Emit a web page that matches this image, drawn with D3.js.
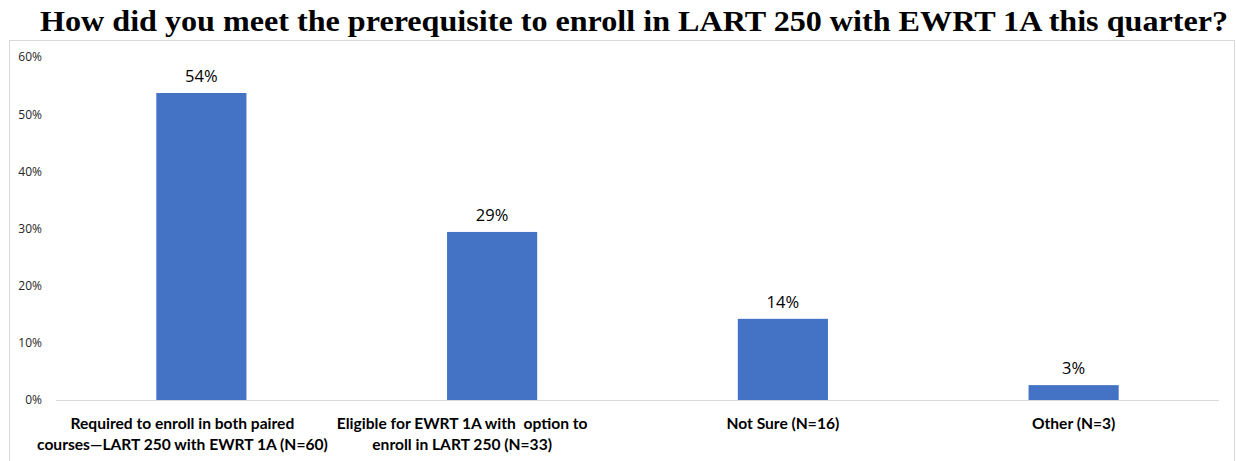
<!DOCTYPE html>
<html>
<head>
<meta charset="utf-8">
<script src="https://cdn.jsdelivr.net/npm/d3@7"></script>
<style>
  body { margin: 0; background: #fff; }
  svg { display: block; }
</style>
</head>
<body>
<div id="chart"></div>
<script>
// chart data
var categories = [
  ["Required to enroll in both paired", "courses\u2014LART 250 with EWRT 1A (N=60)"],
  ["Eligible for EWRT 1A with  option to", "enroll in LART 250 (N=33)"],
  ["Not Sure (N=16)"],
  ["Other (N=3)"]
];
var values = [53.7, 29.4, 14.2, 2.6];
var valueLabels = ["54%", "29%", "14%", "3%"];
var yTicks = [0, 10, 20, 30, 40, 50, 60];

var svgWidth = 1236;
var svgHeight = 461;

var svg = d3.select("#chart")
  .append("svg")
  .attr("width", svgWidth)
  .attr("height", svgHeight);

// title
svg.append("text")
  .attr("x", 634)
  .attr("y", 31)
  .attr("text-anchor", "middle")
  .attr("textLength", 1188)
  .attr("lengthAdjust", "spacingAndGlyphs")
  .style("font-family", "'Liberation Serif', 'DejaVu Serif', serif")
  .style("font-weight", "bold")
  .style("font-size", "30px")
  .style("fill", "#000")
  .text("How did you meet the prerequisite to enroll in LART 250 with EWRT 1A this quarter?");

// chart border
svg.append("rect")
  .attr("x", 9.5)
  .attr("y", 40.5)
  .attr("width", 1225)
  .attr("height", 430)
  .attr("fill", "none")
  .attr("stroke", "#d9d9d9");

var margin = { left: 56, right: 17, top: 57, bottom: 61 };
var width = svgWidth - margin.left - margin.right;
var yBase = 400;

var x = d3.scaleBand()
  .domain(d3.range(categories.length))
  .range([margin.left, margin.left + width])
  .paddingInner(0.69)
  .paddingOuter(0.345);

var y = d3.scaleLinear()
  .domain([0, 60])
  .range([yBase, 57]);

// y axis labels (no axis line)
var yAxis = d3.axisLeft(y)
  .tickValues(yTicks)
  .tickFormat(d => d + "%")
  .tickSize(0)
  .tickPadding(0);

var yG = svg.append("g")
  .attr("transform", "translate(42,0)")
  .call(yAxis);
yG.select(".domain").remove();
yG.selectAll("text")
  .style("font-family", "'Open Sans', 'Liberation Sans', sans-serif")
  .style("font-size", "12px")
  .style("fill", "#262626");

// bars
svg.selectAll("rect.bar")
  .data(values)
  .enter()
  .append("rect")
  .attr("class", "bar")
  .attr("x", (d, i) => x(i))
  .attr("y", d => y(d))
  .attr("width", x.bandwidth())
  .attr("height", d => yBase - y(d))
  .attr("fill", "#4472c4");

// baseline
svg.append("line")
  .attr("x1", margin.left)
  .attr("x2", margin.left + width)
  .attr("y1", yBase + 0.5)
  .attr("y2", yBase + 0.5)
  .attr("stroke", "#d9d9d9")
  .attr("stroke-width", 1);

// value labels
svg.selectAll("text.val")
  .data(values)
  .enter()
  .append("text")
  .attr("class", "val")
  .attr("x", (d, i) => x(i) + x.bandwidth() / 2)
  .attr("y", d => y(d) - 11)
  .attr("text-anchor", "middle")
  .style("font-family", "'Open Sans', 'Liberation Sans', sans-serif")
  .style("font-size", "16.5px")
  .style("fill", "#000")
  .text((d, i) => valueLabels[i]);

// category labels
var catG = svg.selectAll("text.cat")
  .data(categories)
  .enter()
  .append("text")
  .attr("class", "cat")
  .attr("y", 429)
  .attr("text-anchor", "middle")
  .style("font-family", "Lato, 'Open Sans', sans-serif")
  .style("font-weight", "bold")
  .style("font-size", "15.6px")
  .style("fill", "#000");

var tspans = catG.selectAll("tspan")
  .data(d => d)
  .enter()
  .append("tspan")
  .attr("dy", (d, i) => i === 0 ? 0 : 21)
  .style("white-space", "pre")
  .text(d => d);

// wrapped labels sit a bit left of the bar centre (like excel), kept inside the chart box
catG.each(function(d, i) {
  var g = d3.select(this);
  var cx = x(i) + x.bandwidth() / 2;
  if (d.length > 1) {
    var widest = d3.max(g.selectAll("tspan").nodes(), n => n.getComputedTextLength());
    cx = Math.max(cx - 30, 37 + widest / 2);
  }
  g.selectAll("tspan").attr("x", cx);
});
</script>
</body>
</html>
